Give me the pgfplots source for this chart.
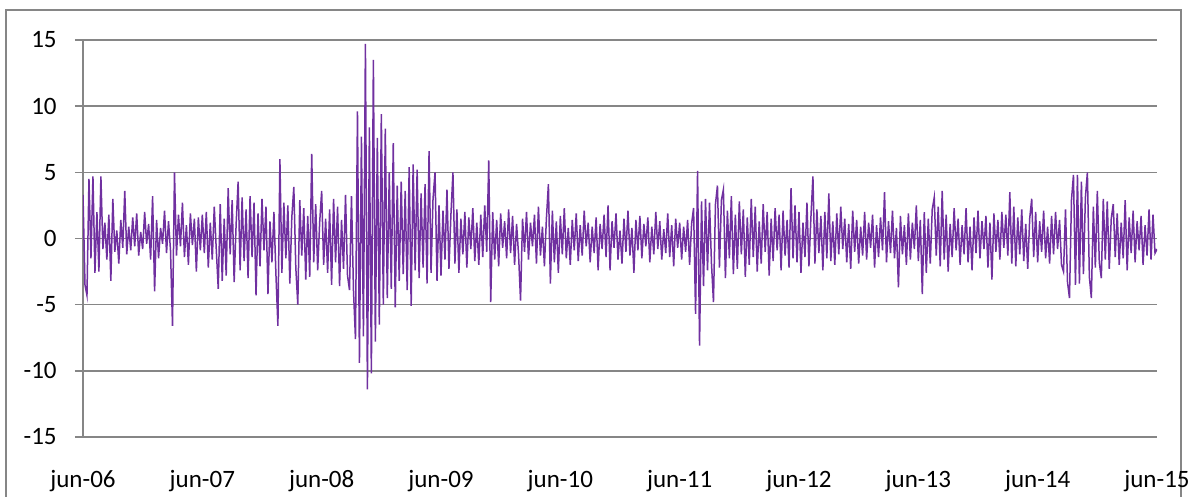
\documentclass[border=0pt]{standalone}
\usepackage{fontspec}
\setmainfont{Carlito}
\usepackage{pgfplots}
\pgfplotsset{compat=1.18}
\usepackage{pgfplotstable}
\definecolor{ser}{RGB}{112,48,160}
\definecolor{grd}{RGB}{134,134,134}
\pgfplotstableread[row sep=\\]{
y\\
3.3\\ -3.5\\ -4.3\\ 4.5\\ -1.5\\ 4.7\\ -2.6\\ 2.0\\ -2.5\\ 4.7\\ -0.8\\ 1.2\\ -1.6\\ 1.8\\ -3.2\\ 3.0\\ -1.0\\ 0.6\\ -1.9\\ 1.4\\
-0.7\\ 3.6\\ -1.2\\ 0.9\\ -0.9\\ 1.6\\ -0.6\\ 1.9\\ -1.3\\ 0.5\\ -0.8\\ 2.0\\ -0.4\\ 1.1\\ -1.6\\ 3.2\\ -4.0\\ 1.4\\ -1.5\\ 0.8\\
-0.4\\ 2.1\\ -1.1\\ 1.3\\ -0.9\\ -6.6\\ 5.0\\ -1.3\\ 1.8\\ -0.6\\ 2.7\\ -1.4\\ 1.0\\ -2.0\\ 1.9\\ -0.5\\ 1.5\\ -2.5\\ 1.6\\ -0.9\\
1.8\\ -1.1\\ 2.0\\ -2.2\\ 1.2\\ -1.6\\ 2.4\\ -0.8\\ -3.8\\ 2.6\\ -3.2\\ 1.5\\ -2.8\\ 3.8\\ -1.2\\ 2.9\\ -3.3\\ 1.1\\ 4.3\\ -2.4\\
3.1\\ -1.7\\ 2.2\\ -3.0\\ 3.2\\ -1.4\\ 2.7\\ -4.3\\ 1.9\\ -2.1\\ 3.0\\ -0.9\\ 2.4\\ -4.2\\ 1.3\\ -1.8\\ 2.0\\ -2.7\\ -6.6\\ 6.0\\
-2.6\\ 2.7\\ -1.5\\ 2.5\\ -3.4\\ 1.6\\ 3.9\\ -2.2\\ -5.0\\ 2.9\\ -1.3\\ 2.3\\ -3.1\\ 1.7\\ -2.9\\ 6.4\\ -1.8\\ 2.6\\ -2.4\\ 1.2\\
3.6\\ -2.0\\ 1.5\\ -2.6\\ 2.2\\ -3.5\\ 3.0\\ -1.8\\ 2.4\\ -3.6\\ 1.4\\ -2.3\\ 3.3\\ -2.8\\ -3.9\\ 3.2\\ -3.9\\ -7.6\\ 9.6\\ -9.4\\
7.7\\ -7.4\\ 14.7\\ -11.4\\ 8.4\\ -10.2\\ 13.5\\ -7.8\\ 7.6\\ -6.5\\ 9.4\\ -5.0\\ 8.3\\ -4.5\\ 5.0\\ -3.8\\ 7.2\\ -5.2\\ 4.0\\ -3.2\\
4.3\\ -2.7\\ 3.6\\ -3.9\\ 5.4\\ -5.1\\ 5.6\\ -2.4\\ 5.2\\ -3.0\\ 3.4\\ -2.2\\ 4.1\\ -3.4\\ 6.6\\ -2.6\\ 3.0\\ 5.0\\ -3.2\\ 2.5\\
-2.8\\ 2.1\\ -1.6\\ 3.7\\ -2.3\\ 1.8\\ 5.0\\ -1.9\\ 2.2\\ -2.6\\ 1.5\\ -1.2\\ 2.0\\ -2.2\\ 1.6\\ -0.8\\ 2.3\\ -1.7\\ 1.2\\ -2.0\\
1.8\\ -1.4\\ 2.5\\ -1.0\\ 5.9\\ -4.8\\ 2.0\\ -1.6\\ 1.4\\ -2.1\\ 1.9\\ -0.7\\ 1.3\\ -1.5\\ 2.2\\ -1.1\\ 1.7\\ -2.0\\ 1.1\\ -1.2\\
-4.7\\ 1.5\\ -1.0\\ 2.0\\ -1.6\\ 1.2\\ -0.6\\ 1.8\\ -1.9\\ 2.4\\ -1.3\\ 0.9\\ -2.1\\ 1.5\\ 4.1\\ -3.4\\ 2.1\\ -1.8\\ 1.3\\ -2.6\\
1.7\\ -1.2\\ 2.3\\ -1.5\\ 0.8\\ -2.0\\ 1.4\\ -0.9\\ 1.9\\ -1.7\\ 1.0\\ -1.3\\ 2.1\\ -0.6\\ 1.2\\ -1.8\\ 0.9\\ -1.1\\ 1.6\\ -2.4\\
1.1\\ -0.8\\ 1.8\\ -1.4\\ 2.5\\ -2.4\\ 1.3\\ -0.7\\ 1.9\\ -1.6\\ 0.6\\ -1.9\\ 1.5\\ -1.0\\ 2.1\\ -1.3\\ 0.8\\ -2.6\\ 1.4\\ -0.9\\
1.7\\ -1.5\\ 1.1\\ -0.6\\ 1.6\\ -1.8\\ 0.9\\ -1.2\\ 2.0\\ -0.8\\ 1.3\\ -1.6\\ 0.7\\ -1.1\\ 1.9\\ -1.4\\ 1.0\\ -2.1\\ 1.5\\ -0.7\\
1.2\\ -1.6\\ 0.9\\ -1.0\\ 1.4\\ -2.0\\ 1.1\\ 2.3\\ -5.7\\ 5.1\\ -8.1\\ 2.8\\ -3.6\\ 3.0\\ -2.4\\ 2.7\\ -1.9\\ -4.8\\ 2.6\\ 4.0\\
-2.2\\ 2.9\\ 3.7\\ -3.0\\ 2.1\\ -1.5\\ 3.2\\ -2.7\\ 1.8\\ -2.3\\ 2.8\\ -1.2\\ 2.2\\ -2.9\\ 1.6\\ -2.0\\ 3.0\\ -1.4\\ 2.4\\ -2.5\\
1.3\\ -1.9\\ 2.6\\ -1.0\\ 2.0\\ -2.8\\ 1.5\\ -1.7\\ 2.3\\ -0.9\\ 1.8\\ -2.4\\ 2.1\\ -1.3\\ 1.4\\ -2.2\\ 3.8\\ -1.5\\ 2.5\\ -1.8\\
2.0\\ -2.6\\ 1.2\\ -1.4\\ 2.7\\ -2.1\\ 1.6\\ 4.7\\ -1.9\\ 2.2\\ -1.1\\ 1.7\\ -2.4\\ 2.0\\ -1.5\\ 3.4\\ -1.7\\ 1.3\\ -2.0\\ 1.9\\
-1.2\\ 2.4\\ -0.8\\ 1.5\\ -1.8\\ 1.1\\ -2.3\\ 2.1\\ -1.0\\ 1.4\\ -1.9\\ 0.9\\ -1.3\\ 2.0\\ -1.6\\ 1.2\\ -0.7\\ 1.8\\ -2.2\\ 1.0\\
-1.4\\ 1.6\\ -0.9\\ 3.5\\ -1.8\\ 1.3\\ -1.1\\ 2.1\\ -1.5\\ 0.8\\ -3.7\\ 1.7\\ -1.2\\ 1.0\\ -2.0\\ 1.9\\ -1.6\\ 1.2\\ -0.8\\ 2.5\\
-1.7\\ 1.4\\ -4.2\\ 2.0\\ -2.6\\ 1.5\\ -1.9\\ 2.2\\ 3.1\\ -1.3\\ 2.4\\ -2.1\\ 3.6\\ -1.6\\ 1.8\\ -2.5\\ 1.1\\ -1.4\\ 2.3\\ -0.9\\
1.5\\ -2.0\\ 1.0\\ -1.2\\ 2.3\\ -1.8\\ 0.9\\ -2.4\\ 1.6\\ -1.1\\ 2.1\\ -1.5\\ 1.3\\ -0.8\\ 1.7\\ -2.2\\ 1.2\\ -3.1\\ 1.9\\ -1.0\\
1.4\\ -1.6\\ 2.0\\ -0.7\\ 1.8\\ -1.3\\ 3.5\\ -1.9\\ 2.4\\ -2.1\\ 1.6\\ -1.2\\ 2.2\\ -1.7\\ 1.1\\ -2.3\\ 1.5\\ 3.0\\ -1.4\\ 2.0\\
-1.8\\ 1.3\\ -1.0\\ 2.1\\ -1.5\\ 0.9\\ -1.9\\ 1.7\\ -1.2\\ 2.0\\ -0.8\\ 1.4\\ -2.0\\ -2.5\\ 2.2\\ -3.3\\ -4.5\\ 2.9\\ 4.8\\ -3.5\\
4.8\\ -3.4\\ 4.3\\ -2.7\\ 3.1\\ 5.0\\ -2.9\\ -4.5\\ 2.4\\ -2.2\\ 3.6\\ -1.8\\ -3.0\\ 3.0\\ -1.6\\ 2.8\\ -2.3\\ 1.5\\ 2.6\\ -1.4\\
1.9\\ -2.0\\ 1.2\\ -1.5\\ 2.9\\ -2.4\\ 1.6\\ -1.1\\ 2.1\\ -1.8\\ 1.3\\ -0.9\\ 1.7\\ -2.0\\ 1.0\\ -1.3\\ 2.2\\ -1.6\\ 1.8\\ -1.1\\
-0.8\\
}\datatab
\begin{document}
\begin{tikzpicture}
\useasboundingbox (0,0) rectangle (594pt,248.5pt);
\draw[grd, line width=0.75pt] (3pt,-5pt) rectangle (590.5pt,243.5pt);
\begin{axis}[
  at={(41.5pt,30pt)}, anchor=south west,
  scale only axis, width=537pt, height=198.5pt,
  xmin=0, xmax=9, ymin=-15, ymax=15,
  axis lines=left,
  axis line style={grd, line width=0.75pt, -},
  ytick={-15,-10,-5,0,5,10,15},
  yticklabels={-15,-10,-5,0,5,10,15},
  xtick={0,1,2,3,4,5,6,7,8,9},
  xticklabels={jun-06,jun-07,jun-08,jun-09,jun-10,jun-11,jun-12,jun-13,jun-14,jun-15},
  ymajorgrids,
  grid style={grd, line width=0.75pt},
  tick align=outside,
  major tick length=4pt,
  ytick style={grd, line width=0.75pt},
  xtick style={draw=none},
  ticklabel style={font=\fontsize{12.5}{14}\selectfont, text=black},
  yticklabel style={anchor=east, inner sep=0pt, xshift=-9pt},
  xticklabel style={anchor=base, inner sep=0pt, yshift=-21.5pt},
]
\addplot[ser, line width=0.75pt, mark=none] table[x expr=\coordindex/60, y=y]{\datatab};
\end{axis}
\end{tikzpicture}
\end{document}
